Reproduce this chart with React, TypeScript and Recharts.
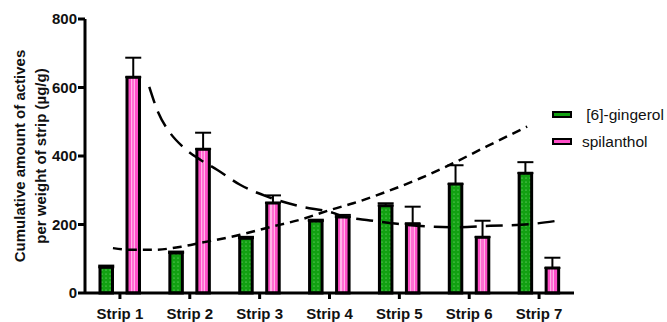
import React from 'react';
import { ComposedChart, Bar, Line, XAxis, YAxis, ErrorBar } from 'recharts';

// Bar values (µg/g)
const strips = ['Strip 1', 'Strip 2', 'Strip 3', 'Strip 4', 'Strip 5', 'Strip 6', 'Strip 7'];
const gingerol = [75, 117, 160, 210, 255, 318, 350];
const gingerolErr = [5, 4, 4, 4, 7, 55, 32];
const spilanthol = [630, 420, 263, 222, 202, 163, 73];
const spilantholErr = [57, 48, 22, 6, 50, 48, 30];
const yTicks = [0, 200, 400, 600, 800];

// Dashed trend curves (x in strip units)
const gingerolTrendX = [0.9, 1.19, 1.47, 1.9, 2.15, 2.72, 3.1, 3.58, 4.05, 4.34, 4.82, 5.3, 5.77, 6.25, 6.83];
const gingerolTrendY = [131, 126, 126, 136, 146, 170, 190, 214, 245, 262, 296, 335, 379, 428, 486];
const spilantholTrendX = [1.42, 1.55, 1.72, 1.9, 2.15, 2.39, 2.72, 3.1, 3.58, 4.05, 4.18, 4.58, 4.97, 5.44, 5.84, 6.3, 6.87, 7.26];
const spilantholTrendY = [602, 526, 467, 427, 389, 360, 316, 282, 253, 234, 225, 212, 202, 194, 192, 196, 201, 211];

const font = '"Liberation Sans", Arial, sans-serif';

const chartData = strips.map((name, i) => ({
  name,
  gingerol: gingerol[i],
  gErr: [0, gingerolErr[i]],
  spilanthol: spilanthol[i],
  sErr: [0, spilantholErr[i]],
}));

const gingerolTrend = gingerolTrendX.map((x, i) => ({ x, v: gingerolTrendY[i] }));
const spilantholTrend = spilantholTrendX.map((x, i) => ({ x, v: spilantholTrendY[i] }));

const YLabel = (props: any) => {
  const { viewBox } = props;
  const cy = viewBox.y + viewBox.height / 2;
  const style = { fontFamily: font, fontSize: 15, fontWeight: 700, fill: '#111' };
  return (
    <g>
      <text x={19} y={cy} transform={`rotate(-90 19 ${cy})`} textAnchor="middle" dominantBaseline="central" style={style}>
        Cumulative amount of actives
      </text>
      <text x={40.5} y={cy} transform={`rotate(-90 40.5 ${cy})`} textAnchor="middle" dominantBaseline="central" style={style}>
        per weight of strip (µg/g)
      </text>
    </g>
  );
};

const LegendBox = () => {
  const row = { display: 'flex', alignItems: 'center', height: 27 };
  const swatch = (bg: string) => ({
    width: 16, height: 3, border: '2px solid #000', background: bg, marginRight: 10,
  });
  return (
    <div style={{ position: 'absolute', left: 552, top: 101, fontFamily: font, fontSize: 15.5, color: '#111' }}>
      <div style={row}>
        <div style={swatch('#12a012')} />
        <span style={{ whiteSpace: 'pre' }}> [6]-gingerol</span>
      </div>
      <div style={row}>
        <div style={swatch('#ff4fc8')} />
        <span>spilanthol</span>
      </div>
    </div>
  );
};

export default function App() {
  return (
    <div style={{ position: 'absolute', left: 0, top: 0, width: 667, height: 322, background: '#fff' }}>
      <ComposedChart
        width={667}
        height={322}
        data={chartData}
        margin={{ top: 19, right: 93, bottom: 0, left: 0 }}
        barGap={14.5}
      >
        <defs>
          <pattern id="greenDots" patternUnits="userSpaceOnUse" width="4" height="4">
            <rect width="4" height="4" fill="#12a012" />
            <circle cx="2" cy="2" r="0.6" fill="#8fe88f" />
          </pattern>
          <linearGradient id="pinkStripes" x1="0" y1="0" x2="1" y2="0">
            <stop offset="0" stopColor="#ff4fc8" />
            <stop offset="0.3" stopColor="#ff4fc8" />
            <stop offset="0.3" stopColor="#ffb4e8" />
            <stop offset="0.4" stopColor="#ffb4e8" />
            <stop offset="0.4" stopColor="#ff6fd2" />
            <stop offset="0.58" stopColor="#ff6fd2" />
            <stop offset="0.58" stopColor="#ffb4e8" />
            <stop offset="0.66" stopColor="#ffb4e8" />
            <stop offset="0.66" stopColor="#ff4fc8" />
            <stop offset="1" stopColor="#ff4fc8" />
          </linearGradient>
        </defs>
        <XAxis
          xAxisId="cat"
          dataKey="name"
          height={29}
          axisLine={{ stroke: '#000', strokeWidth: 3 }}
          tickLine={{ stroke: '#000', strokeWidth: 3 }}
          tickSize={6}
          tickMargin={9}
          interval={0}
          tick={{ fontFamily: font, fontSize: 15, fontWeight: 700, fill: '#111' }}
        />
        <XAxis xAxisId="trend" type="number" dataKey="x" domain={[0.5, 7.5]} allowDataOverflow hide />
        <YAxis
          width={85}
          domain={[0, 800]}
          ticks={yTicks}
          interval={0}
          axisLine={{ stroke: '#000', strokeWidth: 3 }}
          tickLine={{ stroke: '#000', strokeWidth: 3 }}
          tickSize={7}
          tickMargin={1}
          tick={{ fontFamily: font, fontSize: 15, fontWeight: 700, fill: '#111' }}
          label={<YLabel />}
        />
        <Bar xAxisId="cat" dataKey="gingerol" barSize={12.5} fill="url(#greenDots)" stroke="#000" strokeWidth={3} isAnimationActive={false}>
          <ErrorBar dataKey="gErr" width={8} stroke="#000" strokeWidth={2} direction="y" />
        </Bar>
        <Bar xAxisId="cat" dataKey="spilanthol" barSize={12.5} fill="url(#pinkStripes)" stroke="#000" strokeWidth={3} isAnimationActive={false}>
          <ErrorBar dataKey="sErr" width={8} stroke="#000" strokeWidth={2} direction="y" />
        </Bar>
        <Line
          xAxisId="trend"
          data={gingerolTrend}
          dataKey="v"
          type="monotone"
          stroke="#000"
          strokeWidth={2.5}
          strokeDasharray="9 6"
          dot={false}
          isAnimationActive={false}
        />
        <Line
          xAxisId="trend"
          data={spilantholTrend}
          dataKey="v"
          type="monotone"
          stroke="#000"
          strokeWidth={2.5}
          strokeDasharray="17 9"
          dot={false}
          isAnimationActive={false}
        />
      </ComposedChart>
      <LegendBox />
    </div>
  );
}
